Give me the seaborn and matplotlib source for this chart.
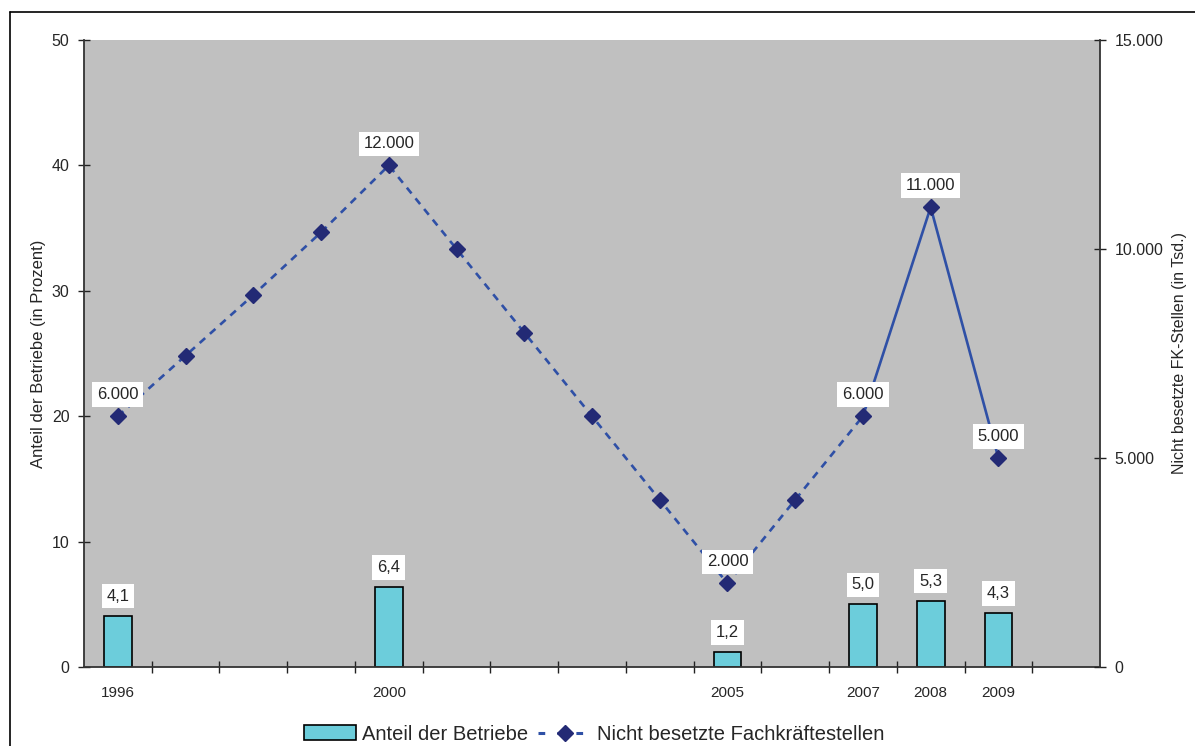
import numpy as np
import pandas as pd
import matplotlib
matplotlib.use("Agg")
import matplotlib.pyplot as plt
import seaborn as sns
from matplotlib.lines import Line2D
from matplotlib.patches import Patch

sns.set_style("white")
plt.rcParams["font.family"] = ["Liberation Sans", "DejaVu Sans"]

# all year slots on the category axis
years = list(range(1996, 2011))
label_years = [1996, 2000, 2005, 2007, 2008, 2009]

# share of companies (%)
bar_years = [1996, 2000, 2005, 2007, 2008, 2009]
bar_values = [4.1, 6.4, 1.2, 5.0, 5.3, 4.3]

# vacant skilled-worker positions
line_years = list(range(1996, 2010))
line_values = [6000, 7450, 8900, 10400, 12000, 10000, 8000, 6000, 4000, 2000,
               4000, 6000, 11000, 5000]
line_label_years = [1996, 2000, 2005, 2007, 2008, 2009]
solid_from = 2007

bar_color = "#6CCDDB"
line_color = "#2F50A6"
marker_color = "#232A75"

bars = pd.DataFrame({"year": [str(y) for y in bar_years], "share": bar_values})
line = pd.DataFrame({"pos": [y - years[0] for y in line_years], "val": line_values,
                     "year": line_years})

fig = plt.figure(figsize=(11.95, 7.46), dpi=100)
ax = fig.add_axes([84 / 1195, 1 - 667 / 746, (1100 - 84) / 1195, (667 - 40) / 746])
ax.set_facecolor("#C0C0C0")

sns.barplot(data=bars, x="year", y="share", order=[str(y) for y in years],
            color=bar_color, saturation=1, width=0.41, edgecolor="black",
            linewidth=1.2, ax=ax, zorder=2)
ax.set_xlim(-0.5, len(years) - 0.5)
ax.set_ylim(0, 50)
ax.set_yticks(np.arange(0, 51, 10))
ax.set_xticks([y - years[0] for y in label_years])
ax.set_xticklabels([str(y) for y in label_years])
ax.set_xticks(np.arange(0.5, len(years) - 1, 1), minor=True)
ax.tick_params(axis="x", which="major", length=0, labelsize=11, pad=14)
ax.tick_params(axis="x", which="minor", length=9, direction="inout", width=1,
               color="#222222", bottom=True)
ax.tick_params(axis="y", length=9, direction="inout", width=1, labelsize=11.5,
               color="#222222", left=True, pad=6)
ax.set_xlabel("")
ax.set_ylabel("Anteil der Betriebe (in Prozent)", fontsize=12, labelpad=4)
for s in ["left", "bottom"]:
    ax.spines[s].set_color("#333333")
    ax.spines[s].set_linewidth(1.3)
ax.spines["top"].set_visible(False)
ax.spines["right"].set_visible(False)

for y, v in zip(bar_years, bar_values):
    ax.annotate(f"{v:.1f}".replace(".", ","), (y - years[0], v), xytext=(0, 14),
                textcoords="offset points", ha="center", va="center", fontsize=12,
                bbox=dict(fc="white", ec="none", pad=3.5), zorder=5)

ax2 = ax.twinx()
dashed = line[line["year"] <= solid_from]
solid = line[line["year"] >= solid_from]
sns.lineplot(data=dashed, x="pos", y="val", ax=ax2, color=line_color, lw=1.9,
             linestyle=(0, (2.8, 2.4)), zorder=3)
sns.lineplot(data=solid, x="pos", y="val", ax=ax2, color=line_color, lw=1.9,
             zorder=3)
ax2.plot(line["pos"], line["val"], linestyle="none", marker="D", markersize=8,
         color=marker_color, zorder=4)
ax2.set_ylim(0, 15000)
ax2.set_yticks([0, 5000, 10000, 15000])
ax2.set_yticklabels(["0", "5.000", "10.000", "15.000"])
ax2.tick_params(axis="y", length=9, direction="inout", width=1, labelsize=11.5,
                color="#222222", right=True, pad=6)
ax2.set_xlabel("")
ax2.set_ylabel("Nicht besetzte FK-Stellen (in Tsd.)", fontsize=11.5, labelpad=6)
ax2.spines["right"].set_color("#333333")
ax2.spines["right"].set_linewidth(1.3)
for s in ["top", "left", "bottom"]:
    ax2.spines[s].set_visible(False)
ax2.set_xlim(-0.5, len(years) - 0.5)

for y in line_label_years:
    v = line_values[line_years.index(y)]
    ax2.annotate(f"{v:,.0f}".replace(",", "."), (y - years[0], v), xytext=(0, 15.5),
                 textcoords="offset points", ha="center", va="center", fontsize=12,
                 bbox=dict(fc="white", ec="none", pad=3.5), zorder=6)

handles = [
    Patch(facecolor=bar_color, edgecolor="black", linewidth=1.2),
    Line2D([], [], color=line_color, lw=2.2, linestyle=(0, (2.2, 4.0)), marker="D",
           markersize=8, markerfacecolor=marker_color, markeredgecolor=marker_color),
]
fig.legend(handles, ["Anteil der Betriebe", "Nicht besetzte Fachkräftestellen"],
           loc="center", bbox_to_anchor=(0.497, 0.016), ncol=2, frameon=False,
           fontsize=14.5, handlelength=2.6, handletextpad=0.3, columnspacing=0.5)

# outer frame (cropped at right and bottom)
fig.add_artist(Line2D([10 / 1195, 10 / 1195], [0, 1 - 12 / 746], color="black", lw=1.2,
                      transform=fig.transFigure))
fig.add_artist(Line2D([10 / 1195, 1], [1 - 12 / 746, 1 - 12 / 746], color="black",
                      lw=1.2, transform=fig.transFigure))

fig.savefig("out.png", dpi=100)
